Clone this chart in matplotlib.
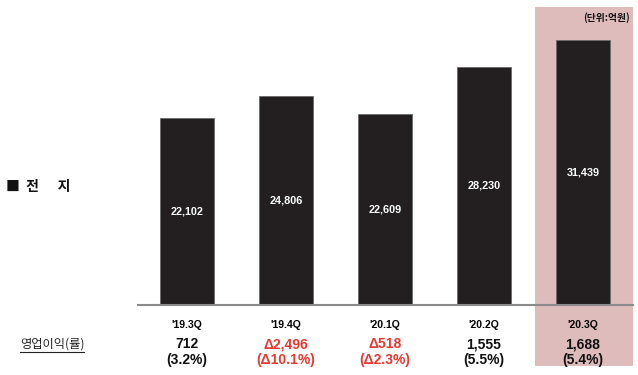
import matplotlib
matplotlib.use("Agg")
import matplotlib.pyplot as plt
from matplotlib.patches import Rectangle
from matplotlib.lines import Line2D
import matplotlib.transforms as mtransforms

categories = ["'19.3Q", "'19.4Q", "'20.1Q", "'20.2Q", "'20.3Q"]
sales = [22102, 24806, 22609, 28230, 31439]
op_profit = ["712", "Δ2,496", "Δ518", "1,555", "1,688"]
op_margin = ["(3.2%)", "(Δ10.1%)", "(Δ2.3%)", "(5.5%)", "(5.4%)"]
segment = "■  전      지"
row_label = "영업이익(률)"
unit_label = "(단위:억원)"

FONT = ['Liberation Sans', 'Noto Sans CJK KR', 'DejaVu Sans']
KFONT = ['Noto Sans CJK KR', 'DejaVu Sans']
plt.rcParams['font.family'] = FONT

W, H = 638, 375
fig = plt.figure(figsize=(W / 100, H / 100), dpi=100)
fig.patch.set_facecolor('white')

ax_left, ax_right, ax_bottom, ax_top = 138, 633, 305, 7
ax = fig.add_axes([ax_left / W, (H - ax_bottom) / H,
                   (ax_right - ax_left) / W, (ax_bottom - ax_top) / H])
ax.set_facecolor('none')

x = list(range(len(categories)))
ax.set_xlim(-0.495, len(categories) - 0.495)
ax.set_ylim(0, 35300)

# highlight band for the last quarter
trans = mtransforms.blended_transform_factory(ax.transData, ax.transAxes)
last = len(categories) - 1
band = Rectangle((last - 0.485, -0.205), 0.99, 1.205, transform=trans,
                 facecolor='#dfbcbc', edgecolor='none', clip_on=False, zorder=0)
ax.add_patch(band)

bars = ax.bar(x, sales, width=0.55, color='#231f20', edgecolor='#6b6b6b',
              linewidth=0.6, zorder=2)
for b, v in zip(bars, sales):
    ax.text(b.get_x() + b.get_width() / 2, v / 2, f"{v:,}", color='white',
            fontsize=7.8, fontweight='bold', ha='center', va='center', zorder=3)

for s in ['top', 'right', 'left']:
    ax.spines[s].set_visible(False)
ax.spines['bottom'].set_color('#8a8a8a')
ax.spines['bottom'].set_linewidth(1.5)
ax.set_yticks([])
ax.set_xticks(x)
ax.set_xticklabels(categories, fontsize=7.5, fontweight='bold')
ax.tick_params(axis='x', length=0, pad=11)

red = '#e63a32'
for i, (p, m) in enumerate(zip(op_profit, op_margin)):
    c = red if p.startswith('Δ') else '#111111'
    ax.text(i, -0.131, p, transform=trans, ha='center', va='center',
            fontsize=10, fontweight='bold', color=c, clip_on=False)
    ax.text(i, -0.185, m, transform=trans, ha='center', va='center',
            fontsize=10, fontweight='bold', color=c, clip_on=False)

# left-side labels
fig.text(6 / W, 1 - 187 / H, segment, fontsize=10, fontweight='bold',
         family=KFONT, ha='left', va='center', color='#111111')
fig.text(20 / W, 1 - 344 / H, row_label, fontsize=8.8, family=KFONT,
         ha='left', va='center', color='#222222')
fig.add_artist(Line2D([20 / W, 84 / W], [1 - 351.5 / H, 1 - 351.5 / H],
                      transform=fig.transFigure, color='#222222', lw=0.8))

fig.text(630 / W, 1 - 18 / H, unit_label, fontsize=7, fontweight='bold',
         family=KFONT, ha='right', va='center', color='#111111')

fig.savefig('out.png', dpi=100)
